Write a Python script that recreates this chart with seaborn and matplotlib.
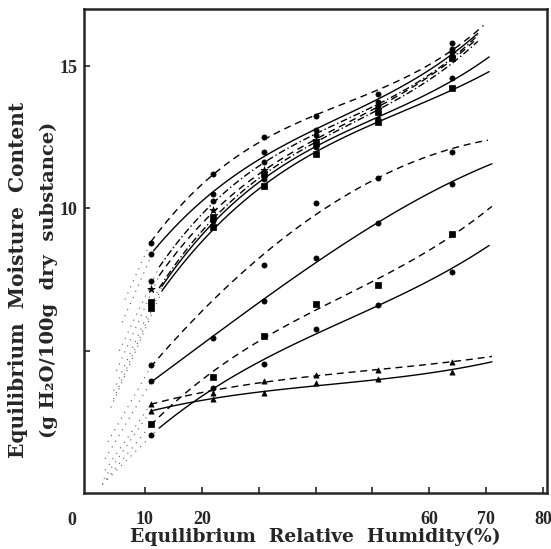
import numpy as np
import pandas as pd
import matplotlib
matplotlib.use("Agg")
import matplotlib.pyplot as plt
import seaborn as sns

# relative humidities of the measured points (%)
rh = [11, 22, 31, 40, 51, 64]

# upper group of isotherms (g H2O / 100 g dry substance)
c1 = [8.8, 11.2, 12.5, 13.25, 14.04, 15.8]
c2 = [8.4, 10.5, 11.98, 12.75, 13.74, 15.6]
c3 = [7.46, 10.26, 11.63, 12.57, 13.6, 15.5]
c4 = [7.17, 9.95, 11.34, 12.39, 13.5, 15.45]
c5 = [6.7, 9.7, 11.2, 12.3, 13.4, 15.3]
c6 = [6.64, 9.55, 11.05, 12.16, 13.16, 14.6]
c7 = [6.5, 9.35, 10.8, 11.93, 13.04, 14.25]
# middle / lower isotherms
m1 = [4.5, np.nan, 8.0, 10.2, 11.08, 11.98]
m2 = [3.92, 5.45, 6.76, 8.26, 9.48, 10.85]
m3 = [2.44, 4.08, 5.53, 6.64, 7.32, 9.11]
m4 = [2.04, 3.69, 4.53, 5.76, 6.61, 7.76]
b1 = [3.14, 3.53, 3.94, 4.15, 4.32, 4.59]
b2 = [2.89, 3.32, 3.5, 3.85, 4.0, 4.27]

curves = [c1, c2, c3, c4, c5, c6, c7, m1, m2, m3, m4, b1, b2]
# where each drawn line ends (rh, moisture)
end_rh = [69.5, 68.5, 68.5, 68.5, 68.5, 70.5, 70.5, 70.3, 71, 71, 70.5, 71, 71]
end_m = [16.3, 16.05, 15.95, 15.85, 15.75, 15.27, 14.76, 12.45, 11.63, 10.07, 8.78, 4.82, 4.65]
start_rh = [11, 11.5, 12.5, 12.5, 12.5, 13, 13, 11, 11, 11, 12.5, 11, 11]
# dotted extrapolation toward low humidity
tail_rh = [6.5, 6.0, 5.5, 5.0, 4.5, 4.5, 4.0, 3.5, 3.0, 2.5, 2.5, 3.0, 2.8]
tail_m = [6.8, 6.0, 5.0, 4.3, 3.6, 3.3, 3.0, 1.8, 1.2, 0.3, 0.3, 0.8, 0.5]

styles = ["--", "-", "-.", "--", "-.", "-", "-", "--", "-", "--", "-", "--", "-"]
marks = ["o", "o", "o", "*", "s", "o", "s", "o", "o", "s", "o", "^", "^"]
fit_deg = [3, 3, 3, 3, 3, 3, 3, 2, 3, 3, 3, 3, 3]

sns.set_theme(style="ticks")
plt.rcParams["font.family"] = ["Liberation Serif", "DejaVu Serif"]
plt.rcParams["font.weight"] = "bold"

fig = plt.figure(figsize=(5.51, 5.49), dpi=100)
ax = fig.add_axes([0.1525, 0.102, 0.8405, 0.881])

dash = {"--": (0, (5, 3.5)), "-.": (0, (5, 2, 1, 2)), "-": "-"}

for i, vals in enumerate(curves):
    df = pd.DataFrame({"rh": rh, "m": vals}).dropna()
    fx = np.append(df["rh"].values, end_rh[i])
    fy = np.append(df["m"].values, end_m[i])
    coef = np.polyfit(fx, fy, fit_deg[i])
    xs = np.linspace(start_rh[i], end_rh[i], 120)
    line = pd.DataFrame({"rh": xs, "m": np.polyval(coef, xs)})
    sns.lineplot(data=line, x="rh", y="m", ax=ax, color="black", lw=1.0,
                 linestyle=dash[styles[i]], sort=False)
    tail = pd.DataFrame({"rh": [tail_rh[i], xs[0]], "m": [tail_m[i], line["m"].iloc[0]]})
    sns.lineplot(data=tail, x="rh", y="m", ax=ax, color="0.35", lw=0.8,
                 linestyle=(0, (1, 5)), sort=False)
    sns.scatterplot(data=df, x="rh", y="m", ax=ax, color="black", marker=marks[i],
                    s=14 if marks[i] != "*" else 30, edgecolor="black", linewidth=0.5,
                    zorder=3)

ax.set_xlim(-0.7, 80.7)
ax.set_ylim(0, 17)
ax.set_xticks([10, 20, 30, 40, 50, 60, 70, 80])
ax.set_xticklabels(["10", "20", "", "", "", "60", "70", "80"])
ax.set_yticks([5, 10, 15])
ax.set_yticklabels(["", "10", "15"])
ax.tick_params(direction="in", length=4, width=1.2, labelsize=13)
ax.tick_params(axis="x", pad=13)
ax.tick_params(axis="y", pad=5)
for lab in ax.get_xticklabels() + ax.get_yticklabels():
    lab.set_fontweight("bold")
for sp in ax.spines.values():
    sp.set_linewidth(1.8)
    sp.set_visible(True)

ax.annotate("0", xy=(0, 0), xytext=(-12, -20), textcoords="offset points",
            fontsize=13, fontweight="bold", ha="center", va="center")

lab_font = ["DejaVu Serif"]
ax.set_xlabel("Equilibrium  Relative  Humidity(%)", fontsize=13.5, fontweight="bold",
              family=lab_font, labelpad=0)
ax.set_ylabel("")
fig.text(0.033, 0.49, "Equilibrium  Moisture  Content", rotation=90, fontsize=14.5,
         fontweight="bold", family=lab_font, ha="center", va="center")
fig.text(0.088, 0.49, "(g H\u2082O/100g  dry  substance)", rotation=90, fontsize=14,
         fontweight="bold", family=lab_font, ha="center", va="center")

fig.savefig("out.png", dpi=100)
